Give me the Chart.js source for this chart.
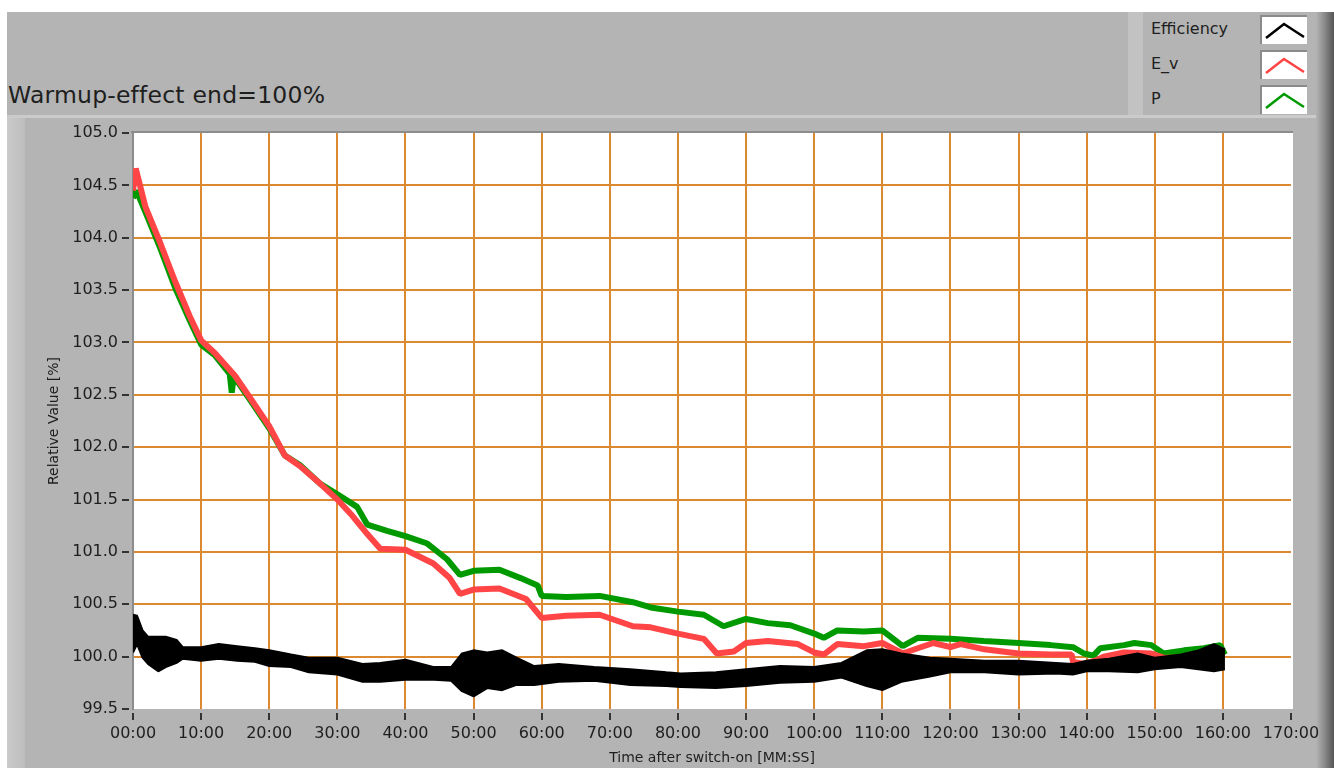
<!DOCTYPE html>
<html>
<head>
<meta charset="utf-8">
<script src="https://cdn.jsdelivr.net/npm/chart.js@4.4.0/dist/chart.umd.min.js"></script>
<style>
html, body { margin: 0; padding: 0; width: 1334px; height: 768px; overflow: hidden; background: #fff; font-family: "DejaVu Sans", sans-serif; }
#frame { position: absolute; left: 7px; top: 12px; width: 1327px; height: 756px; background: #b4b4b4; }
#hline { position: absolute; left: 7px; top: 115px; width: 1310px; height: 3px; background: #cbcbcb; }
#leftStrip { position: absolute; left: 7px; top: 118px; width: 18px; height: 650px; background: linear-gradient(to right, #cacaca, #bebebe); }
#shadow { position: absolute; left: 1316px; top: 12px; width: 18px; height: 756px; background: linear-gradient(to right, #b4b4b4, #8c8c8c 45%, #555); }
#title { position: absolute; left: 8px; top: 81px; font-size: 23.5px; color: #1e1e1e; white-space: nowrap; letter-spacing: 0.2px; }
#legStrip { position: absolute; left: 1128px; top: 12px; width: 15px; height: 103px; background: #c2c2c2; }
.legText { position: absolute; left: 1151px; font-size: 16px; color: #1e1e1e; }
.sw { position: absolute; left: 1260px; width: 45px; height: 27px; background: #fff; border-top: 2px solid #8a8a8a; border-left: 2px solid #8a8a8a; }
canvas { position: absolute; left: 0; top: 0; }
</style>
</head>
<body>
<div id="frame"></div>
<div id="hline"></div>
<div id="leftStrip"></div>
<div id="shadow"></div>
<div id="legStrip"></div>
<div id="title">Warmup-effect end=100%</div>

<div class="legText" style="top:19px">Efficiency</div>
<div class="legText" style="top:54px">E_v</div>
<div class="legText" style="top:89px">P</div>
<div class="sw" style="top:15px"><svg width="45" height="27"><polyline points="4,21 22,7 42,20" fill="none" stroke="#000" stroke-width="2.5"/></svg></div>
<div class="sw" style="top:50px"><svg width="45" height="27"><polyline points="4,21 22,7 42,20" fill="none" stroke="#ff4545" stroke-width="2.5"/></svg></div>
<div class="sw" style="top:85px"><svg width="45" height="27"><polyline points="4,21 22,7 42,20" fill="none" stroke="#009a00" stroke-width="2.5"/></svg></div>

<canvas id="warmupChart" width="1334" height="768"></canvas>

<script>
// time axis labels (minutes after switch-on)
const xTickLabels = ["00:00", "10:00", "20:00", "30:00", "40:00", "50:00", "60:00", "70:00", "80:00",
    "90:00", "100:00", "110:00", "120:00", "130:00", "140:00", "150:00", "160:00", "170:00"];

// Efficiency: noisy band, read as upper / lower edge
const effTime = [0, 0.6, 1.4, 2.2, 3.7, 4.8, 6.4, 7.3, 10, 12.6,
    15.3, 17.9, 20, 23.2, 25.8, 30, 33.7, 36.3, 40, 44.2,
    46.7, 48.3, 50, 52, 54.2, 56.3, 58.9, 62.5, 67.7, 73,
    78.3, 80.4, 85.6, 90, 95, 100, 104, 107.7, 110, 112.8,
    117, 120, 125, 130, 135.5, 138, 140, 143.3, 147.5, 150,
    153.8, 156.4, 158.7, 160.3];
const effHigh = [100.40, 100.39, 100.25, 100.19, 100.19, 100.19, 100.16, 100.09, 100.09, 100.12,
    100.10, 100.08, 100.06, 100.02, 99.99, 99.99, 99.93, 99.94, 99.97, 99.90,
    99.90, 100.03, 100.06, 100.04, 100.06, 99.99, 99.91, 99.93, 99.90, 99.88,
    99.85, 99.84, 99.85, 99.88, 99.91, 99.90, 99.94, 100.06, 100.07, 100.03,
    99.99, 99.98, 99.96, 99.96, 99.94, 99.93, 99.96, 99.98, 100.03, 99.99,
    100.02, 100.06, 100.12, 100.07];
const effLow = [100.04, 100.12, 99.99, 99.93, 99.86, 99.90, 99.94, 99.98, 99.96, 99.98,
    99.96, 99.95, 99.91, 99.90, 99.85, 99.83, 99.76, 99.76, 99.78, 99.78,
    99.77, 99.67, 99.62, 99.70, 99.68, 99.73, 99.73, 99.76, 99.77, 99.73,
    99.72, 99.71, 99.70, 99.72, 99.75, 99.76, 99.80, 99.72, 99.68, 99.76,
    99.81, 99.85, 99.85, 99.83, 99.84, 99.83, 99.86, 99.86, 99.85, 99.88,
    99.90, 99.88, 99.86, 99.88];

// E_v
const evTime = [0, 0.4, 1.8, 4, 6.2, 8.4, 10, 12, 15, 17.2,
    20, 22.3, 24.5, 27.5, 30, 32, 34.4, 36.3, 40, 44.1,
    46.5, 48, 50, 53.8, 57.7, 60, 63.6, 68.5, 73.4, 76,
    80, 83.8, 85.7, 88.2, 90, 93.2, 97.6, 100, 101.4, 103.4,
    107.3, 110, 113, 115.2, 117.5, 120, 121.5, 125, 130, 134.7,
    137.8, 138, 139.6, 141.6, 142.5, 145.5, 149.5, 151.3, 154.3, 157.2,
    160.3];
const evValues = [104.45, 104.66, 104.30, 103.95, 103.58, 103.24, 103.02, 102.90, 102.68, 102.47,
    102.20, 101.92, 101.82, 101.65, 101.50, 101.36, 101.17, 101.03, 101.02, 100.89,
    100.75, 100.60, 100.64, 100.65, 100.55, 100.37, 100.39, 100.40, 100.29, 100.28,
    100.22, 100.17, 100.03, 100.05, 100.13, 100.15, 100.12, 100.04, 100.02, 100.12,
    100.10, 100.13, 100.03, 100.08, 100.13, 100.09, 100.12, 100.07, 100.03, 100.02,
    100.02, 99.95, 99.93, 99.97, 100.00, 100.04, 100.03, 99.99, 99.99, 100.02,
    100.00];

// P
const pTime = [0, 0.5, 1.8, 4, 6.2, 8.4, 10, 12, 14.2, 14.5,
    14.8, 17.2, 20, 22.3, 24.5, 27.5, 30, 32.9, 34.4, 37.3,
    40, 43.2, 46.1, 48, 50, 53.8, 56.9, 59.4, 60, 63.6,
    68.5, 73.4, 76, 80, 83.8, 86.7, 90, 93.2, 96.5, 100,
    101.4, 103.4, 107.3, 110, 113, 115.2, 120, 124.9, 130, 134.7,
    138, 139.6, 141, 142, 145.5, 147, 149.5, 151.3, 154.3, 157.2,
    159.6, 160.3];
const pValues = [104.38, 104.45, 104.25, 103.90, 103.52, 103.20, 102.98, 102.88, 102.70, 102.52,
    102.68, 102.45, 102.18, 101.92, 101.83, 101.65, 101.55, 101.43, 101.26, 101.20,
    101.15, 101.08, 100.93, 100.78, 100.82, 100.83, 100.75, 100.68, 100.58, 100.57,
    100.58, 100.52, 100.47, 100.43, 100.40, 100.29, 100.36, 100.32, 100.30, 100.22,
    100.18, 100.25, 100.24, 100.25, 100.10, 100.18, 100.17, 100.15, 100.13, 100.11,
    100.09, 100.03, 100.01, 100.08, 100.11, 100.13, 100.11, 100.03, 100.06, 100.08,
    100.11, 100.02];

function toPoints(times, values) {
    return times.map((t, i) => ({ x: t, y: values[i] }));
}

const gridOrange = "#dc8a32";

// white plot area and grey top frame line, like the LabVIEW graph
const plotFrame = {
    id: "plotFrame",
    beforeDraw(chart) {
        const { ctx, chartArea: a } = chart;
        ctx.save();
        ctx.fillStyle = "#ffffff";
        ctx.fillRect(a.left, a.top, a.right - a.left + 2, a.bottom - a.top);
        ctx.restore();
    },
    afterDraw(chart) {
        const { ctx, chartArea: a } = chart;
        ctx.save();
        ctx.strokeStyle = "#8c8c8c";
        ctx.lineWidth = 2;
        ctx.beginPath();
        ctx.moveTo(a.left - 2, a.top - 1);
        ctx.lineTo(a.right + 2, a.top - 1);
        ctx.stroke();
        ctx.restore();
    }
};

const ctx = document.getElementById("warmupChart");
new Chart(ctx, {
    type: "line",
    data: {
        datasets: [
            {
                label: "Efficiency",
                data: toPoints(effTime, effHigh),
                borderColor: "#000000",
                backgroundColor: "#000000",
                borderWidth: 2,
                fill: "+1"
            },
            {
                label: "Efficiency low",
                data: toPoints(effTime, effLow),
                borderColor: "#000000",
                borderWidth: 2,
                fill: false
            },
            {
                label: "E_v",
                data: toPoints(evTime, evValues),
                borderColor: "#ff4545",
                borderWidth: 6,
                fill: false
            },
            {
                label: "P",
                data: toPoints(pTime, pValues),
                borderColor: "#009a00",
                borderWidth: 6,
                fill: false
            }
        ]
    },
    options: {
        responsive: false,
        animation: false,
        devicePixelRatio: 1,
        elements: { point: { radius: 0 }, line: { tension: 0, borderJoinStyle: "bevel" } },
        layout: { padding: { left: 0, top: 133, right: 43, bottom: 0 } },
        plugins: {
            legend: { display: false },
            tooltip: { enabled: false }
        },
        scales: {
            x: {
                type: "linear",
                min: 0,
                max: 170,
                afterFit: (s) => { s.height = 59; },
                ticks: {
                    stepSize: 10,
                    autoSkip: false,
                    maxRotation: 0,
                    padding: 4,
                    color: "#1e1e1e",
                    font: { family: "DejaVu Sans", size: 16 },
                    callback: (v, i) => xTickLabels[i]
                },
                grid: {
                    color: (c) => (c.index === 0 || c.index === 17) ? "rgba(0,0,0,0)" : gridOrange,
                    lineWidth: 2,
                    tickLength: 11,
                    tickColor: "#333",
                    tickWidth: 2,
                    tickBorderDash: [0, 4, 7, 100]
                },
                border: { display: false },
                title: {
                    display: true,
                    text: "Time after switch-on [MM:SS]",
                    color: "#1e1e1e",
                    font: { family: "DejaVu Sans", size: 14 },
                    padding: { top: 0, bottom: 1 }
                }
            },
            y: {
                min: 99.5,
                max: 105,
                afterFit: (s) => { s.width = 133; },
                ticks: {
                    stepSize: 0.5,
                    padding: 4,
                    color: "#1e1e1e",
                    font: { family: "DejaVu Sans", size: 16 },
                    callback: (v) => v.toFixed(1)
                },
                grid: {
                    color: (c) => (c.index === 0 || c.index === 11) ? "rgba(0,0,0,0)" : gridOrange,
                    lineWidth: 2,
                    tickLength: 11,
                    tickColor: "#333",
                    tickWidth: 2,
                    tickBorderDash: [7, 100]
                },
                border: { display: true, color: "#8c8c8c", width: 2 },
                title: {
                    display: true,
                    text: "Relative Value [%]",
                    color: "#1e1e1e",
                    font: { family: "DejaVu Sans", size: 14 },
                    padding: { top: 46, bottom: 0 }
                }
            }
        }
    },
    plugins: [plotFrame]
});
</script>
</body>
</html>
